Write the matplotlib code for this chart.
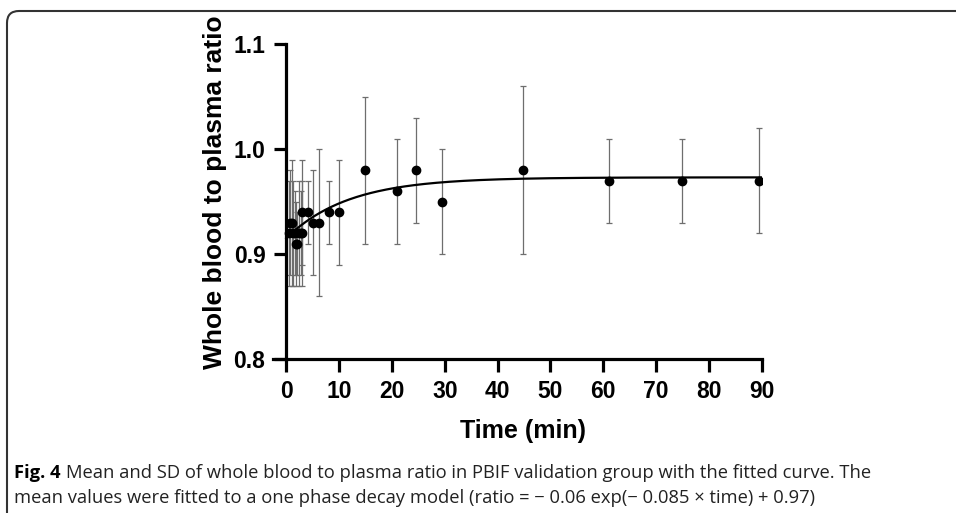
import numpy as np
import matplotlib.pyplot as plt
from matplotlib.patches import FancyBboxPatch
from matplotlib.transforms import IdentityTransform

# mean and SD of whole blood to plasma ratio
time_min = [0.5, 0.8, 1.0, 1.3, 1.6, 1.9, 2.1, 2.4, 2.7, 3.0, 3.0, 4.2,
            5.0, 6.2, 8.0, 10.0, 15.0, 21.0, 24.5, 29.5, 44.8, 61.0, 75.0, 89.5]
ratio_mean = [0.92, 0.93, 0.93, 0.92, 0.92, 0.91, 0.91, 0.92, 0.92, 0.92, 0.94, 0.94,
              0.93, 0.93, 0.94, 0.94, 0.98, 0.96, 0.98, 0.95, 0.98, 0.97, 0.97, 0.97]
ratio_sd = [0.05, 0.05, 0.06, 0.05, 0.04, 0.04, 0.03, 0.05, 0.04, 0.05, 0.05, 0.03,
            0.05, 0.07, 0.03, 0.05, 0.07, 0.05, 0.05, 0.05, 0.08, 0.04, 0.04, 0.05]

# one phase decay fit
plateau = 0.973
span = 0.058
k_rate = 0.085

x_ticks = [0, 10, 20, 30, 40, 50, 60, 70, 80, 90]
y_ticks = [0.8, 0.9, 1.0, 1.1]

plt.rcParams['font.family'] = ['Liberation Sans', 'DejaVu Sans']

fig = plt.figure(figsize=(9.56, 5.13), dpi=100)
ax = fig.add_axes([0.2856, 0.3002, 0.5112, 0.614])

ax.errorbar(time_min, ratio_mean, yerr=ratio_sd, fmt='none', ecolor='#6e6e6e',
            elinewidth=0.9, capsize=2.5, capthick=0.9, zorder=2)
ax.plot(time_min, ratio_mean, 'o', color='black', markersize=6, zorder=4)

t_fit = np.linspace(0, 90, 400)
ax.plot(t_fit, plateau - span * np.exp(-k_rate * t_fit), color='black', lw=1.6, zorder=3)

ax.set_xlim(-2.5, 90)
ax.set_ylim(0.8, 1.1)
ax.set_xticks(x_ticks)
ax.set_yticks(y_ticks)
ax.set_yticklabels([f'{v:.1f}' for v in y_ticks])

for s in ['top', 'right']:
    ax.spines[s].set_visible(False)
ax.spines['left'].set_position(('data', 0))
ax.spines['left'].set_linewidth(2.3)
ax.spines['bottom'].set_linewidth(2.3)
ax.tick_params(axis='both', length=9, width=2.3, labelsize=16.5, pad=6)
for lab in ax.get_xticklabels() + ax.get_yticklabels():
    lab.set_fontweight('bold')

fig.text(523 / 956, 1 - 431 / 513, 'Time (min)', ha='center', va='center',
         fontsize=18, fontweight='bold')
fig.text(215 / 956, 1 - 192 / 513, 'Whole blood to plasma ratio', ha='center', va='center',
         rotation=90, fontsize=19, fontweight='bold')

# caption
cap_font = ['Open Sans', 'DejaVu Sans']
cap_size = 13.2
head = fig.text(14 / 956, 1 - 473 / 513, 'Fig. 4', fontsize=cap_size, va='center',
                family=cap_font, fontweight='bold', color='black')
renderer = fig.canvas.get_renderer()
head_end = head.get_window_extent(renderer).x1
fig.text((head_end + 5) / 956, 1 - 473 / 513,
         'Mean and SD of whole blood to plasma ratio in PBIF validation group with the fitted curve. The',
         fontsize=cap_size, va='center', family=cap_font, color='#222222')
fig.text(14 / 956, 1 - 498 / 513,
         'mean values were fitted to a one phase decay model (ratio = \u2212 0.06 exp(\u2212 0.085 \u00d7 time) + 0.97)',
         fontsize=cap_size, va='center', family=cap_font, color='#222222')

# rounded frame, open to the right and bottom
frame = FancyBboxPatch((7, -60), 1100, 502 + 60, boxstyle='round,pad=0,rounding_size=12',
                       transform=IdentityTransform(), fill=False, edgecolor='#333333', lw=1.5)
fig.patches.append(frame)

fig.savefig('out.png', dpi=100)
